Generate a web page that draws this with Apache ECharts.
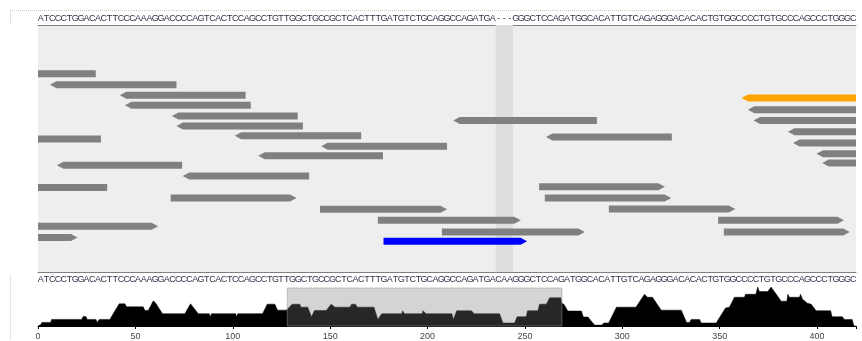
<!DOCTYPE html>
<html>
<head>
<meta charset="utf-8">
<script src="https://cdn.jsdelivr.net/npm/echarts@6/dist/echarts.min.js"></script>
<style>
html,body{margin:0;padding:0;background:#fff;}
#chart{width:862px;height:341px;}
</style>
</head>
<body>
<div id="chart"></div>
<script>
// ---------- DATA ----------
// alignment row (top) and reference row (bottom) of the zoomed window
const alignedSequence = "ATCCCTGGACACTTCCCAAAGGACCCCAGTCACTCCAGCCTGTTGGCTGCCGCTCACTTTGATGTCTGCAGGCCAGATGA---GGGCTCCAGATGGCACATTGTCAGAGGGACACACTGTGGCCCCTGTGCCCAGCCCTGGGC";
const referenceSequence = "ATCCCTGGACACTTCCCAAAGGACCCCAGTCACTCCAGCCTGTTGGCTGCCGCTCACTTTGATGTCTGCAGGCCAGATGACAAGGGCTCCAGATGGCACATTGTCAGAGGGACACACTGTGGCCCCTGTGCCCAGCCCTGGGC";

// reads in the zoomed window (column units), track = vertical slot
const readStart = [-12, 2.1, 14.3, 15.2, 23.4, 24.2, 72.6, -11, 34.4, 88.8, 49.5, 38.5, 3.3, 25.3, -10, 87.6, 88.6, 23.2, 49.3, 99.8, 59.4, 118.9, 70.6, 119.9, -1, -15, 60.4, 123.0, 124.1, 125.1, 131.1, 132.0, 136.1, 137.1];
const readEnd   = [10.1, 24.2, 36.3, 37.2, 45.4, 46.3, 97.7, 11.0, 56.5, 110.8, 71.5, 60.3, 25.2, 47.4, 12.1, 109.6, 110.7, 45.2, 71.5, 121.9, 84.4, 140.9, 95.6, 141.9, 21.0, 6.9, 85.5, 148, 146, 147, 153, 154, 158, 159];
const readTrack = [48.7, 59.8, 70.3, 80.3, 91, 101, 95.5, 114, 110.7, 112, 121.3, 130.8, 140.3, 151, 162.5, 161.7, 173, 173, 184.3, 184, 195.3, 195.3, 207, 207, 201.3, 212.5, 216.3, 73, 84.7, 95.5, 106.8, 118, 128.7, 138];
const readStrand = ['-','-','-','-','-','-','-','-','-','-','-','-','-','-','-','+','+','+','+','+','+','+','+','+','+','+','+','-','-','-','-','-','-','-'];
const readKind = ['read','read','read','read','read','read','read','read','read','read','read','read','read','read','read','read','read','read','read','read','read','read','read','read','read','read','query','mate','read','read','read','read','read','read'];

// coverage along the whole region
const coveragePos = [0,0.5,1.5,2,6.5,7,22.4,23.2,24.6,25.3,29.8,30.3,31,31.5,36.9,38.6,39.5,41.7,44.6,45.5,54,54.9,56.6,59.2,60.5,62,64,75.4,78.3,79.3,82.3,87.9,88.4,89.1,101.5,102,102.6,115.3,117.7,121.6,123,127.6,128.5,130.5,134.4,135,138.5,139.5,140.4,141,142,148,150.5,151.5,152.5,160.2,161,163,164,172.5,174.5,175.3,176.5,186.8,187.2,187.7,188.1,197.3,197.7,198.6,199.2,212.5,213.3,214,215,222.5,224,225,226,237,238.7,244.7,246,250.7,251.3,256.7,257.5,261,262.7,268.5,268.9,270,272,279,280,282.4,284,285.8,289.5,290.5,293,297,307,311.4,312.3,313,315.5,320,330.3,333,334.5,335.4,339.7,340.5,348.2,353,355,357.6,362.7,363.3,368.6,369.5,370.4,374.7,376.4,377.5,381.6,384.5,385,385.8,391,391.5,392.5,395,397,399.5,407,407.7,413,414,418,419,420];
const coverageDepth = [0,0.5,0.5,1.2,1.2,2.2,2.2,3.2,3.2,2.2,2.2,1.2,1.2,2.2,2.2,4.1,4.1,7.4,7.4,6.4,6.4,5.2,5.2,8.4,7.6,6,4.1,4.1,7.4,7.4,4.1,4.1,3.1,4.1,4.1,3.1,4.1,4.1,7.3,7.3,5.3,5.3,5.3,7.3,7.3,6.3,6.3,6.3,3.1,3.1,5.2,5.2,7.3,7.3,6.3,6.3,7.3,7.3,6.3,6.3,2.2,2.2,4.1,4.1,5.1,5.1,4.1,4.1,5.1,5.1,4.1,4.1,2.2,2.2,5.1,5.1,4.1,3.6,4.1,4.1,1,1,3.1,3.1,5.1,5.1,7.3,7.3,9.4,9.4,7.6,7.3,5,5,3,3,1.7,0.3,0.3,1,1,6.3,6.3,10.6,10.6,9.6,9.6,5.3,5.3,1.2,1.2,2.2,2.2,1,1,6,6.3,9.6,9.6,10.6,10.6,13,11.5,11.5,13,12,8.3,8.3,10.6,9.6,9.6,10.6,9,7.6,7.3,5.1,5.1,3.1,3.1,2.2,2.2,0,0];

// genome coordinates shown in the zoomed window (the brush)
const viewStart = 128;
const viewEnd = 269;
const regionLength = 420;
const coverageTicks = [0, 50, 100, 150, 200, 250, 300, 350, 400];

// ---------- BUILD ----------
const topSeq = alignedSequence.split('');
const refSeq = referenceSequence.split('');
const nCols = topSeq.length;
const gapStart = alignedSequence.indexOf('-');
const gapEnd = alignedSequence.lastIndexOf('-') + 1;

const readData = readStart.map((s, i) => [s, readEnd[i], readTrack[i], readStrand[i] === '+' ? 1 : -1, readKind[i]]);
const kindColor = { read: '#808080', query: '#0000ff', mate: '#ffa500' };
const coverageData = coveragePos.map((p, i) => [p, coverageDepth[i]]);

const seqFont = 'Liberation Sans, Arial, sans-serif';

const chart = echarts.init(document.getElementById('chart'), null, { renderer: 'canvas' });

chart.setOption({
  animation: false,
  backgroundColor: '#ffffff',
  grid: [
    { left: 38, right: 6, top: 25, height: 247, show: true, backgroundColor: '#eeeeee', borderWidth: 0 },
    { left: 38, right: 6, top: 288, height: 43, show: false }
  ],
  xAxis: [
    { type: 'category', gridIndex: 0, position: 'top', data: topSeq,
      axisLine: { show: true, lineStyle: { color: '#808080', width: 1 } },
      axisTick: { show: false },
      axisLabel: { interval: 0, fontSize: 9, margin: 2, color: '#2e3347', fontFamily: seqFont } },
    { type: 'category', gridIndex: 0, position: 'bottom', data: refSeq,
      axisLine: { show: true, lineStyle: { color: '#808080', width: 1 } },
      axisTick: { show: false },
      axisLabel: { interval: 0, fontSize: 9, margin: 3, color: '#2e3347', fontFamily: seqFont } },
    { type: 'value', gridIndex: 0, min: 0, max: nCols, show: false },
    { type: 'value', gridIndex: 1, min: 0, max: regionLength, interval: 50,
      axisLine: { show: true, lineStyle: { color: '#000', width: 1 } },
      axisTick: { show: true, length: 3, lineStyle: { color: '#000' } },
      splitLine: { show: false },
      axisLabel: { fontSize: 9, margin: 6, color: '#444', fontFamily: seqFont,
        formatter: v => coverageTicks.indexOf(v) >= 0 ? String(v) : '' } }
  ],
  yAxis: [
    { type: 'value', gridIndex: 0, min: 0, max: 247, inverse: true, show: false },
    { type: 'value', gridIndex: 1, min: 0, max: 12.7, show: false }
  ],
  graphic: [
    { type: 'line', shape: { x1: 10, y1: 10.5, x2: 856, y2: 10.5 }, style: { stroke: '#c8c8c8', lineWidth: 1, lineDash: [1, 1] }, silent: true },
    { type: 'line', shape: { x1: 10.5, y1: 10.5, x2: 10.5, y2: 24 }, style: { stroke: '#c8c8c8', lineWidth: 1, lineDash: [1, 1] }, silent: true },
    { type: 'line', shape: { x1: 10.5, y1: 275, x2: 10.5, y2: 341 }, style: { stroke: '#c8c8c8', lineWidth: 1, lineDash: [1, 1] }, silent: true }
  ],
  series: [
    { // gap column highlight
      type: 'custom', xAxisIndex: 2, yAxisIndex: 0, z: 1, silent: true,
      data: [[gapStart, gapEnd]],
      renderItem: (params, api) => {
        const cs = params.coordSys;
        const a = api.coord([api.value(0), 0]);
        const b = api.coord([api.value(1), 0]);
        return { type: 'rect', shape: { x: a[0], y: cs.y, width: b[0] - a[0], height: cs.height },
                 style: { fill: '#dedede' } };
      }
    },
    { // reads
      type: 'custom', xAxisIndex: 2, yAxisIndex: 0, z: 3, silent: true,
      data: readData,
      renderItem: (params, api) => {
        const cs = params.coordSys;
        const left = cs.x, right = cs.x + cs.width;
        const s = api.coord([api.value(0), api.value(2)]);
        const e = api.coord([api.value(1), api.value(2)]);
        const strand = api.value(3);
        const kind = readData[params.dataIndex][4];
        const cy = s[1], h = 7, ah = 6.5;
        const top = cy - h / 2, bot = cy + h / 2;
        const x0 = Math.max(s[0], left), x1 = Math.min(e[0], right);
        let pts;
        if (strand < 0 && s[0] >= left) {
          pts = [[s[0], cy], [s[0] + ah, top], [x1, top], [x1, bot], [s[0] + ah, bot]];
        } else if (strand > 0 && e[0] <= right) {
          pts = [[x0, top], [e[0] - ah, top], [e[0], cy], [e[0] - ah, bot], [x0, bot]];
        } else {
          pts = [[x0, top], [x1, top], [x1, bot], [x0, bot]];
        }
        return { type: 'polygon', shape: { points: pts }, style: { fill: kindColor[kind] } };
      }
    },
    { // coverage
      type: 'line', xAxisIndex: 3, yAxisIndex: 1, z: 2, data: coverageData,
      showSymbol: false, symbol: 'none', clip: false,
      lineStyle: { color: '#000', width: 0.5 },
      areaStyle: { color: '#000', opacity: 1 }
    },
    { // brush of zoomed window
      type: 'custom', xAxisIndex: 3, yAxisIndex: 1, z: 5, silent: true,
      data: [[viewStart, viewEnd]],
      renderItem: (params, api) => {
        const cs = params.coordSys;
        const a = api.coord([api.value(0), 0]);
        const b = api.coord([api.value(1), 0]);
        return { type: 'rect', shape: { x: a[0], y: cs.y, width: b[0] - a[0], height: cs.height },
                 style: { fill: 'rgba(120,120,120,0.32)', stroke: 'rgba(150,150,150,0.5)', lineWidth: 1 } };
      }
    }
  ]
});
</script>
</body>
</html>
